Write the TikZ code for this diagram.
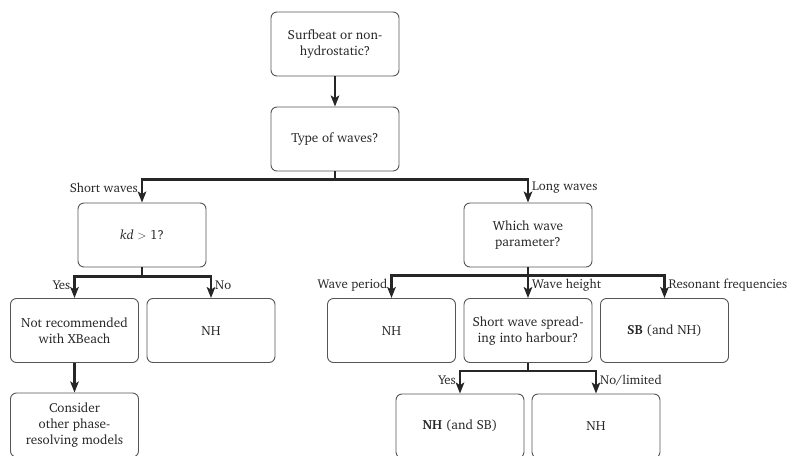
\documentclass[tikz,border=0pt]{standalone}
\usepackage[T1]{fontenc}
\usepackage{charter}
\usetikzlibrary{arrows.meta,calc}
\definecolor{ink}{HTML}{262626}
\definecolor{edge}{HTML}{555555}
\begin{document}
\begin{tikzpicture}[x=1pt,y=-1pt,
  box/.style={draw=edge,line width=0.9pt,rounded corners=6pt,minimum width=128pt,minimum height=64pt,
    align=center,text=ink,font=\fontsize{13.2}{16}\selectfont,inner sep=2pt},
  lab/.style={text=ink,font=\fontsize{12.8}{15}\selectfont,inner sep=1pt},
  link/.style={draw=ink,line width=2.4pt},
  arr/.style={link,-{Stealth[length=11pt,width=8.5pt,inset=2.5pt]}}]
\useasboundingbox (0,0) rectangle (792,455);
\node[box] (b1) at (335,44) {Surfbeat or non-\\hydrostatic?};
\node[box] (b2) at (335,139) {Type of waves?};
\node[box] (kd) at (142,235) {\textit{kd} $>$ 1?};
\node[box] (wp) at (528,235) {Which wave\\parameter?};
\node[box] (nr) at (74.5,330.5) {Not recommended\\with XBeach};
\node[box] (nh1) at (211,330.5) {NH};
\node[box] (nh2) at (391.5,330.5) {NH};
\node[box] (sw) at (528,330.5) {Short wave spread-\\ing into harbour?};
\node[box] (sb) at (664.5,330.5) {\textbf{SB} (and NH)};
\node[box] (cons) at (74.5,425) {Consider\\other phase-\\resolving models};
\node[box] (nhsb) at (460,426) {\textbf{NH} (and SB)};
\node[box] (nh3) at (596,426) {NH};
% connectors
\draw[arr] (b1.south) -- (b2.north);
\draw[link] (b2.south) -- ++(0,8) coordinate (j1);
\draw[arr] (j1) -| (kd.north);
\draw[arr] (j1) -| (wp.north);
\draw[link] (kd.south) -- ++(0,9) coordinate (j2);
\draw[arr] (j2) -| (nr.north);
\draw[arr] (j2) -| (nh1.north);
\draw[link] (wp.south) -- ++(0,8) coordinate (j3);
\draw[arr] (j3) -| (nh2.north);
\draw[arr] (j3) -- (sw.north);
\draw[arr] (j3) -| (sb.north);
\draw[arr] (nr.south) -- (cons.north);
\draw[link] (sw.south) -- ++(0,8) coordinate (j4);
\draw[arr] (j4) -| (nhsb.north);
\draw[arr] (j4) -| (nh3.north);
% labels
\node[lab,anchor=east] (l1) at ($(kd.north)+(-3,-15)$) {Short waves};
\node[lab,anchor=west] (l2) at ($(wp.north)+(3,-15)$) {Long waves};
\node[lab,anchor=east] (l3) at ($(nr.north)+(-3,-13)$) {Yes};
\node[lab,anchor=west] (l4) at ($(nh1.north)+(3,-13)$) {No};
\node[lab,anchor=east] (l5) at ($(nh2.north)+(-3,-13)$) {Wave period};
\node[lab,anchor=west] (l6) at ($(sw.north)+(3,-13)$) {Wave height};
\node[lab,anchor=west] (l7) at ($(sb.north)+(3,-13)$) {Resonant frequencies};
\node[lab,anchor=east] (l8) at ($(nhsb.north)+(-3,-13)$) {Yes};
\node[lab,anchor=west] (l9) at ($(nh3.north)+(3,-13)$) {No/limited};
\end{tikzpicture}
\end{document}
